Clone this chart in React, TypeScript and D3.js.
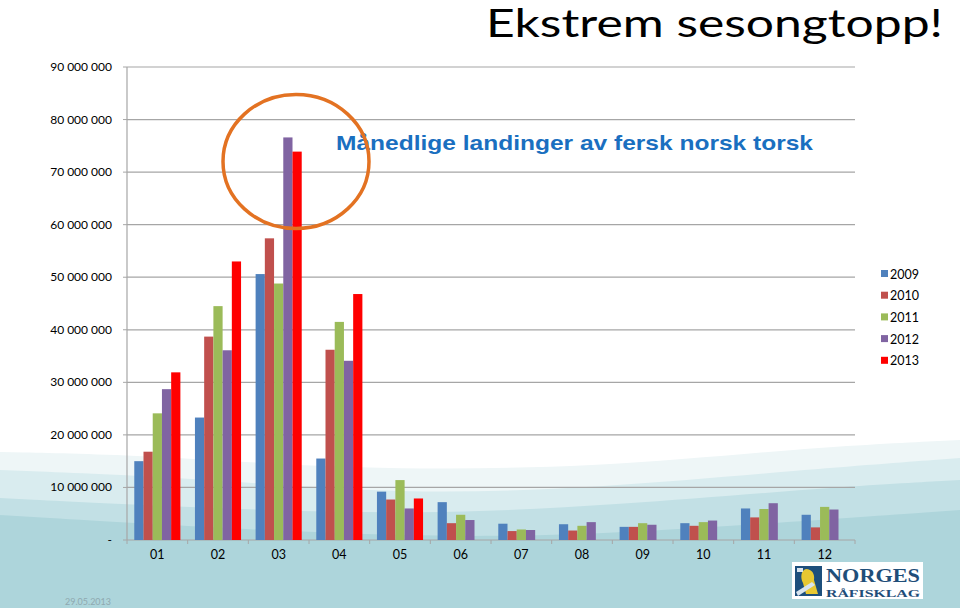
import React from "react";
import * as d3 from "d3";

const months = ["01", "02", "03", "04", "05", "06", "07", "08", "09", "10", "11", "12"];
const years = ["2009", "2010", "2011", "2012", "2013"];
const colors = ["#4F81BD", "#C0504D", "#9BBB59", "#8064A2", "#FF0000"];

const v2009 = [15.0, 23.3, 50.6, 15.5, 9.2, 7.2, 3.1, 3.0, 2.5, 3.2, 6.0, 4.8];
const v2010 = [16.8, 38.7, 57.4, 36.2, 7.7, 3.2, 1.7, 1.8, 2.5, 2.7, 4.3, 2.4];
const v2011 = [24.1, 44.5, 48.8, 41.5, 11.4, 4.8, 2.0, 2.7, 3.2, 3.4, 5.9, 6.3];
const v2012 = [28.7, 36.1, 76.6, 34.1, 6.0, 3.8, 1.9, 3.4, 2.9, 3.7, 7.0, 5.8];
const v2013 = [31.9, 53.0, 73.9, 46.8, 7.9, null, null, null, null, null, null, null];
const series = [v2009, v2010, v2011, v2012, v2013];

const yTicks = [0, 10, 20, 30, 40, 50, 60, 70, 80, 90];

const W = 960;
const H = 608;
const L = 127, R = 855, T = 67, B = 540;
const FONT = "Lato, 'Open Sans', sans-serif";

function fmt(m: number): string {
  if (m === 0) return "-";
  const n = Math.round(m * 1e6);
  return d3.format(",")(n).replace(/,/g, " ");
}

export default function App() {
  const x = d3.scaleBand<string>().domain(months).range([L, R]).paddingInner(0.24).paddingOuter(0.12);
  const xi = d3.scaleBand<string>().domain(years).range([0, x.bandwidth()]).padding(0);
  const y = d3.scaleLinear().domain([0, 90]).range([B, T]);

  const wave = d3.line<[number, number]>().curve(d3.curveBasis);
  const wavePath = (pts: [number, number][]) =>
    wave(pts) + ` L${W},${H} L0,${H} Z`;

  const step = x.step();
  const tickXs = months.map((_, i) => L + i * step).concat([R]);

  return (
    <div style={{ position: "fixed", left: 0, top: 0, width: W, height: H }}>
      <svg width={W} height={H} style={{ display: "block" }}>
        <rect x={0} y={0} width={W} height={H} fill="#ffffff" />
        <path d={wavePath([[0, 452], [150, 455], [350, 470], [600, 468], [800, 448], [960, 440]])} fill="#eef6f7" />
        <path d={wavePath([[0, 470], [200, 478], [400, 495], [600, 488], [800, 470], [960, 458]])} fill="#d9ecef" />
        <path d={wavePath([[0, 498], [200, 508], [420, 515], [620, 505], [820, 488], [960, 480]])} fill="#c2e0e5" />
        <path d={wavePath([[0, 515], [250, 530], [500, 540], [750, 525], [960, 510]])} fill="#aed5db" />
        <rect x={0} y={540} width={W} height={H - 540} fill="#add5db" />

        {/* gridlines */}
        {yTicks.filter(t => t > 0).map(t => (
          <line key={t} x1={L} x2={R} y1={y(t)} y2={y(t)} stroke="#a6a6a6" strokeWidth={1.2} />
        ))}
        {/* axes */}
        <line x1={L} x2={L} y1={T} y2={B} stroke="#a6a6a6" strokeWidth={1.2} />
        <line x1={L} x2={R} y1={B} y2={B} stroke="#a6a6a6" strokeWidth={1.2} />
        {yTicks.map(t => (
          <line key={"yt" + t} x1={L - 4} x2={L} y1={y(t)} y2={y(t)} stroke="#a6a6a6" />
        ))}
        {tickXs.map((tx, i) => (
          <line key={"xt" + i} x1={tx} x2={tx} y1={B} y2={B + 4} stroke="#a6a6a6" />
        ))}

        {/* bars */}
        {series.map((vals, si) =>
          vals.map((v, mi) =>
            v == null ? null : (
              <rect
                key={si + "-" + mi}
                x={(x(months[mi]) as number) + (xi(years[si]) as number)}
                y={y(v)}
                width={xi.bandwidth()}
                height={B - y(v)}
                fill={colors[si]}
              />
            )
          )
        )}

        {/* y labels */}
        {yTicks.map(t => (
          <text key={"yl" + t} x={112} y={y(t) + 4} textAnchor="end" fontFamily={FONT} fontSize={12} fill="#000">
            {fmt(t)}
          </text>
        ))}
        {/* x labels */}
        {months.map(m => (
          <text key={"xl" + m} x={(x(m) as number) + x.bandwidth() / 2} y={559} textAnchor="middle" fontFamily={FONT} fontSize={12.5} fill="#000">
            {m}
          </text>
        ))}

        {/* legend */}
        {years.map((yr, i) => (
          <g key={yr} transform={`translate(881, ${274 + i * 21.7})`}>
            <rect x={0} y={-4} width={7} height={7} fill={colors[i]} />
            <text x={9} y={4.5} fontFamily={FONT} fontSize={12.5} fill="#000">{yr}</text>
          </g>
        ))}

        {/* titles */}
        <text x={486} y={37} fontFamily="Lato, 'Open Sans', sans-serif" fontSize={38} fill="#000" textLength={457} lengthAdjust="spacingAndGlyphs">
          Ekstrem sesongtopp!
        </text>
        <text x={336} y={150} fontFamily="'Liberation Sans', Arial, sans-serif" fontWeight="bold" fontSize={21} fill="#1a6fc0" textLength={477} lengthAdjust="spacingAndGlyphs">
          Månedlige landinger av fersk norsk torsk
        </text>

        {/* highlight circle */}
        <ellipse cx={296} cy={161.5} rx={73} ry={67} fill="none" stroke="#e37222" strokeWidth={3.5} />

        {/* date */}
        <text x={65} y={605} fontFamily={FONT} fontSize={9} fill="#8fa9b0">29.05.2013</text>

        {/* logo */}
        <g>
          <rect x={792} y={562} width={131} height={37} fill="#ffffff" />
          <rect x={795} y={566} width={27} height={30} fill="#1d4f7c" />
          <path d="M806,569 C812,569 815,574 814,580 L818,594 L806,594 L803,583 C800,578 801,570 806,569 Z" fill="#e8c832" />
          <path d="M796,592 L812,582 L815,585 L798,596 Z" fill="#d8e4ee" />
          <rect x={797} y={568} width={6} height={4} fill="#d8e4ee" />
          <text x={826} y={582} fontFamily="'Liberation Serif', 'DejaVu Serif', serif" fontWeight="bold" fontSize={19} fill="#1f4e79" textLength={94} lengthAdjust="spacingAndGlyphs">NORGES</text>
          <text x={826} y={597} fontFamily="'Liberation Serif', 'DejaVu Serif', serif" fontWeight="bold" fontSize={11} fill="#1f4e79" textLength={94} lengthAdjust="spacingAndGlyphs">RÅFISKLAG</text>
        </g>
      </svg>
    </div>
  );
}
